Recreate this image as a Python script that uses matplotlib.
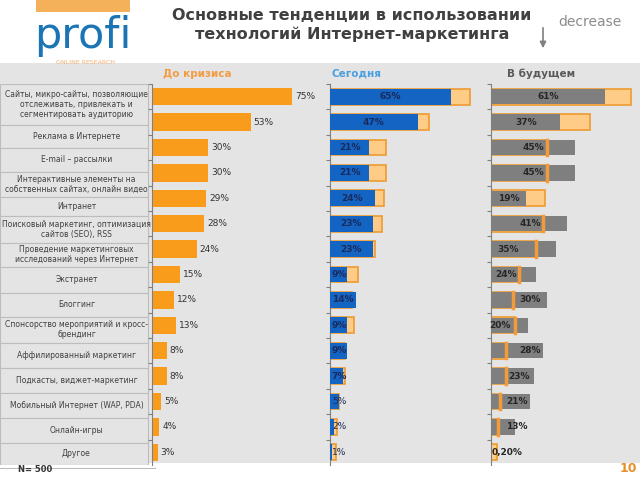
import matplotlib.pyplot as plt
from matplotlib.patches import Rectangle, FancyArrowPatch
from matplotlib.lines import Line2D

# данные
labels = [
    "Сайты, микро-сайты, позволяющие\nотслеживать, привлекать и\nсегментировать аудиторию",
    "Реклама в Интернете",
    "E-mail – рассылки",
    "Интерактивные элементы на\nсобственных сайтах, онлайн видео",
    "Интранет",
    "Поисковый маркетинг, оптимизация\nсайтов (SEO), RSS",
    "Проведение маркетинговых\nисследований через Интернет",
    "Экстранет",
    "Блоггинг",
    "Спонсорство мероприятий и кросс-\nбрендинг",
    "Аффилированный маркетинг",
    "Подкасты, виджет-маркетинг",
    "Мобильный Интернет (WAP, PDA)",
    "Онлайн-игры",
    "Другое",
]
before = [75, 53, 30, 30, 29, 28, 24, 15, 12, 13, 8, 8, 5, 4, 3]
today = [65, 47, 21, 21, 24, 23, 23, 9, 14, 9, 9, 7, 5, 2, 1]
future = [61, 37, 45, 45, 19, 41, 35, 24, 30, 20, 28, 23, 21, 13, 0.2]
future_text = ["61%", "37%", "45%", "45%", "19%", "41%", "35%", "24%",
               "30%", "20%", "28%", "23%", "21%", "13%", "0,20%"]

# раскладка (не данные)
cell_edges = [-0.5, 1.11, 2.02, 2.96, 3.94, 4.69, 5.75, 6.7, 7.72,
              8.66, 9.68, 10.67, 11.65, 12.63, 13.62, 14.5]
future_lbl_x = [31, 19, 22.5, 22.5, 9.5, 21, 9, 8, 21, 5, 21, 15, 14, 14, 8.5]

ORANGE = '#FA9C1B'
LIGHT = '#FFCC88'
EDGE = '#EE9A30'
BLUE = '#1464C4'
GRAY = '#7F7F7F'
BG = '#E4E4E4'

fig = plt.figure(figsize=(6.4, 4.8), dpi=100)


def px_axes(l, t, w, h):
    ax = fig.add_axes([l / 640, 1 - (t + h) / 480, w / 640, h / 480])
    ax.set_facecolor('none')
    ax.set_zorder(2)
    return ax


# серый фон слайда
fig.patches.append(Rectangle((0, 17 / 480), 1, 400 / 480, transform=fig.transFigure,
                             facecolor=BG, edgecolor='none', zorder=-5))

rows = list(range(len(labels)))
TOP, H = 84, 381

# колонка подписей
ax0 = px_axes(0, TOP, 150, H)
ax0.set_xlim(0, 1)
ax0.set_ylim(14.5, -0.5)
ax0.axis('off')
for k, lab in enumerate(labels):
    e0, e1 = cell_edges[k], cell_edges[k + 1]
    ax0.add_patch(Rectangle((0, e0), 0.985, e1 - e0, facecolor=BG,
                            edgecolor='#BDBDBD', lw=0.8))
    ax0.text(0.51, (e0 + e1) / 2, lab, ha='center', va='center', fontsize=5.5,
             color='#404040', linespacing=1.1)


def style(ax, xmax):
    ax.set_xlim(0, xmax)
    ax.set_ylim(14.5, -0.5)
    for s in ['top', 'right', 'bottom']:
        ax.spines[s].set_visible(False)
    ax.spines['left'].set_color('#808080')
    ax.spines['left'].set_linewidth(0.8)
    ax.set_xticks([])
    ax.set_yticks([r + 0.5 for r in rows[:-1]] + [-0.5])
    ax.set_yticklabels([])
    ax.tick_params(axis='y', length=3, color='#808080', width=0.8)


# До кризиса
ax1 = px_axes(152, TOP, 168, H)
style(ax1, 90)
ax1.barh(rows, before, height=0.68, color=ORANGE)
for i, v in enumerate(before):
    ax1.text(v + 1.5, i, f'{v}%', va='center', fontsize=6.5, color='#333333')

# Сегодня
ax2 = px_axes(330, TOP, 150, H)
style(ax2, 80.3)
ax2.barh(rows, before, height=0.62, color=LIGHT, edgecolor=EDGE, lw=1.2, zorder=2)
ax2.barh(rows, today, height=0.62, color=BLUE, zorder=3)
for i, v in enumerate(today):
    ax2.text(max(v / 2, 5), i, f'{v}%', ha='center', va='center', fontsize=6.5,
             color='#1A2A5A', fontweight='bold' if v >= 7 else 'normal', zorder=4)

# В будущем
ax3 = px_axes(491, TOP, 149, H)
style(ax3, 80)
ax3.barh(rows, before, height=0.62, color=LIGHT, edgecolor=EDGE, lw=1.2, zorder=2)
ax3.barh(rows, future, height=0.6, color=GRAY, zorder=3)
for i, (b, f) in enumerate(zip(before, future)):
    if f > b:
        ax3.plot([b, b], [i - 0.3, i + 0.3], color='#F39A3A', lw=2.5, zorder=4)
    ax3.text(future_lbl_x[i], i, future_text[i], ha='center', va='center',
             fontsize=6.5, color='#262626', fontweight='bold', zorder=5)

# заголовки колонок
fig.text(197 / 640, 1 - 74 / 480, 'До кризиса', ha='center', va='center',
         fontsize=7.5, fontweight='bold', color='#F39C43')
fig.text(357 / 640, 1 - 74 / 480, 'Сегодня', ha='center', va='center',
         fontsize=7.5, fontweight='bold', color='#4A9FE0')
fig.text(541 / 640, 1 - 74 / 480, 'В будущем', ha='center', va='center',
         fontsize=7.5, fontweight='bold', color='#595959')

# шапка
fig.text(352 / 640, 1 - 25 / 480,
         'Основные тенденции в использовании\nтехнологий Интернет-маркетинга',
         ha='center', va='center', fontsize=11.5, fontweight='bold',
         color='#404040', linespacing=1.2)
fig.text(590 / 640, 1 - 22 / 480, 'decrease', ha='center', va='center',
         fontsize=10, color='#8C8C8C')
fig.add_artist(FancyArrowPatch((543 / 640, 1 - 25 / 480), (543 / 640, 1 - 51 / 480),
                               transform=fig.transFigure, arrowstyle='-|>',
                               mutation_scale=9, color='#7F7F7F', lw=1.2))

# логотип
fig.patches.append(Rectangle((36 / 640, 1 - 12 / 480), 94 / 640, 12 / 480,
                             transform=fig.transFigure, facecolor='#F5B05A',
                             edgecolor='none'))
fig.text(83 / 640, 1 - 36 / 480, 'profi', ha='center', va='center',
         fontsize=31, color='#1B75B5')
fig.text(85 / 640, 1 - 63 / 480, 'ONLINE RESEARCH', ha='center', va='center',
         fontsize=4.5, color='#F0B070')

# подвал
fig.add_artist(Line2D([0, 155 / 640], [1 - 468 / 480, 1 - 468 / 480],
                      transform=fig.transFigure, color='#BDBDBD', lw=0.8))
fig.text(18 / 640, 1 - 469 / 480, 'N= 500', va='center', fontsize=6,
         fontweight='bold', color='#333333')
fig.text(628 / 640, 1 - 469 / 480, '10', ha='center', va='center', fontsize=9,
         fontweight='bold', color='#E8902A')

fig.savefig('out.png', dpi=100)
